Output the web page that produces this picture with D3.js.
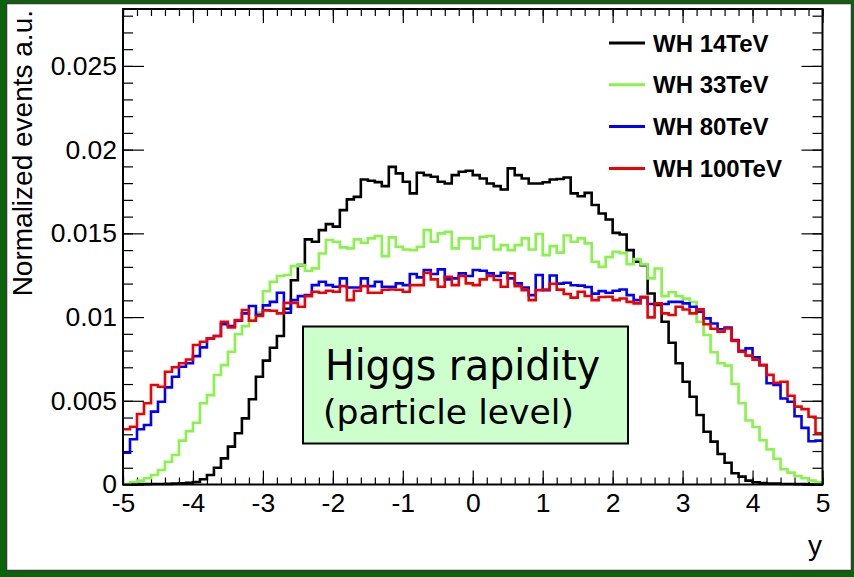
<!DOCTYPE html>
<html>
<head>
<meta charset="utf-8">
<script src="https://cdn.jsdelivr.net/npm/d3@7"></script>
<style>
  html, body { margin: 0; padding: 0; background: #0b640b; }
  svg { display: block; }
</style>
</head>
<body>
<div id="chart"></div>
<script>
// Bin left edges of the rapidity histogram (100 bins, width 0.1, from -5 to 5)
const binWidth = 0.1;
const binLo = d3.range(100).map(i => -5 + i * binWidth);

// Normalized events, in units of 1e-3
const wh14 = [
  0.01, 0.01, 0.02, 0.02, 0.03, 0.03, 0.04, 0.05, 0.07, 0.10,
  0.15, 0.31, 0.57, 1.00, 1.56, 2.26, 3.06, 3.95, 5.09, 6.44,
  7.40, 8.17, 8.87, 10.5, 12.2, 13.1, 14.64, 14.5, 15.19, 15.55,
  15.4, 16.39, 17.03, 17.18, 18.22, 18.14, 18.06, 17.82, 18.97, 18.58,
  18.08, 17.39, 18.62, 18.48, 18.38, 18.08, 17.98, 18.48, 18.68, 18.74,
  18.48, 18.28, 17.98, 17.82, 17.62, 18.88, 18.48, 18.28, 17.98, 17.98,
  18.05, 18.22, 18.25, 18.34, 17.39, 17.22, 17.42, 16.69, 16.19, 15.83,
  15.03, 14.93, 14.0, 13.30, 13.1, 11.41, 10.72, 9.72, 8.47, 7.24,
  6.14, 5.24, 4.15, 3.15, 2.56, 1.82, 1.30, 0.67, 0.47, 0.23,
  0.13, 0.08, 0.06, 0.05, 0.03, 0.03, 0.02, 0.02, 0.01, 0.01
];
const wh33 = [
  0.03, 0.13, 0.23, 0.37, 0.57, 0.87, 1.36, 1.76, 2.62, 3.19,
  3.69, 4.85, 5.34, 6.54, 7.13, 7.93, 8.97, 9.46, 9.82, 10.27,
  11.54, 12.11, 12.45, 12.51, 13.04, 13.10, 12.77, 12.91, 13.80, 14.60,
  14.50, 14.16, 14.10, 14.64, 14.44, 14.70, 14.84, 13.64, 14.76, 14.20,
  14.04, 14.0, 14.2, 15.19, 14.5, 15.0, 15.09, 14.1, 14.7, 14.7,
  14.1, 14.8, 14.84, 14.04, 14.3, 14.0, 14.3, 14.7, 14.04, 14.96,
  13.7, 14.24, 13.85, 14.87, 14.5, 14.7, 14.4, 13.3, 13.0, 13.58,
  13.9, 13.82, 13.16, 13.47, 13.15, 12.31, 12.9, 11.25, 11.48, 11.25,
  11.1, 10.9, 9.72, 8.93, 7.9, 7.24, 7.1, 6.0, 4.85, 3.82,
  3.43, 2.64, 2.1, 1.54, 0.91, 0.71, 0.51, 0.37, 0.23, 0.13
];
const wh80 = [
  1.90, 2.70, 3.30, 3.55, 4.35, 4.94, 5.80, 6.44, 7.03, 7.24,
  7.67, 8.19, 8.73, 8.87, 9.58, 9.46, 9.78, 10.22, 10.66, 10.14,
  10.70, 10.91, 11.45, 10.26, 11.01, 11.25, 11.31, 11.91, 12.11, 11.91,
  11.81, 12.31, 11.77, 11.77, 12.31, 11.85, 12.11, 11.81, 11.81, 12.01,
  11.91, 12.57, 12.37, 12.81, 12.57, 12.85, 12.25, 12.31, 12.61, 12.45,
  12.81, 12.77, 12.61, 12.45, 12.65, 12.31, 12.01, 11.77, 11.31, 12.51,
  11.61, 12.48, 12.0, 12.05, 11.9, 11.88, 11.8, 11.4, 11.55, 11.45,
  11.57, 11.65, 11.31, 11.01, 11.17, 10.78, 10.82, 10.78, 10.91, 10.91,
  10.82, 10.62, 10.32, 9.92, 9.62, 9.27, 9.38, 8.63, 7.99, 8.13,
  7.59, 7.13, 6.05, 5.95, 5.14, 4.94, 4.08, 3.38, 2.58, 2.62
];
const wh100 = [
  3.30, 3.45, 4.21, 4.85, 5.94, 5.84, 6.73, 7.00, 7.24, 7.47,
  8.33, 8.53, 8.73, 8.87, 9.72, 9.38, 9.82, 10.42, 9.78, 10.06,
  10.40, 10.38, 10.22, 10.85, 10.85, 10.62, 11.25, 11.51, 11.45, 11.57,
  11.51, 11.85, 11.01, 11.57, 11.85, 11.45, 11.45, 11.63, 11.65, 11.63,
  11.51, 11.91, 11.91, 12.65, 12.25, 11.81, 12.41, 11.91, 12.45, 12.01,
  11.91, 12.25, 12.45, 12.21, 11.81, 12.61, 11.85, 11.61, 11.01, 11.61,
  11.65, 11.99, 11.64, 11.38, 11.16, 11.51, 11.26, 11.01, 11.2, 11.21,
  11.01, 11.11, 10.91, 10.82, 11.21, 9.98, 10.82, 10.22, 10.12, 10.62,
  10.45, 10.22, 10.46, 9.57, 9.3, 9.12, 9.32, 8.58, 7.93, 7.7,
  7.45, 7.13, 6.55, 6.08, 6.14, 5.3, 4.65, 4.5, 4.05, 3.06
];

const seriesNames  = ['WH 14TeV', 'WH 33TeV', 'WH 80TeV', 'WH 100TeV'];
const seriesValues = [wh14, wh33, wh80, wh100];
const seriesColors = ['#000000', '#86f448', '#0000ff', '#f00000'];

const xMajorTicks  = [-5, -4, -3, -2, -1, 0, 1, 2, 3, 4, 5];
const xTickLabels  = ['-5', '-4', '-3', '-2', '-1', '0', '1', '2', '3', '4', '5'];
const yMajorTicks  = [0, 5, 10, 15, 20, 25];
const yTickLabels  = ['0', '0.005', '0.01', '0.015', '0.02', '0.025'];

const W = 854, H = 577;
const frame = { left: 123, right: 822.5, top: 9, bottom: 484.5 };
const FONT = 'Liberation Sans, Arial, Helvetica, sans-serif';

const svg = d3.select('#chart').append('svg')
  .attr('width', W).attr('height', H)
  .attr('role', 'img')
  .attr('aria-label', 'Higgs rapidity distributions for WH production');

// Fond du cadre (bord vert foncé + page blanche)
svg.append('rect').attr('width', W).attr('height', H).attr('fill', '#0b640b');
svg.append('rect')
  .attr('x', 6.5).attr('y', 3.5).attr('width', 845).attr('height', 567)
  .attr('fill', '#ffffff').attr('stroke', '#3a3a3a').attr('stroke-width', 1.5);

// Échelles
const x = d3.scaleLinear().domain([-5, 5]).range([frame.left, frame.right]);
const y = d3.scaleLinear().domain([0, 28.4]).range([frame.bottom, frame.top]);

const xMinor = d3.range(-5, 5.001, 0.2);
const yMinor = d3.range(0, 28.5, 1);

const styleTicks = gg => {
  gg.select('.domain').remove();
  gg.selectAll('line').attr('stroke', '#000').attr('stroke-width', 1.2);
  gg.selectAll('text')
    .style('fill', '#000')
    .style('font-size', '26.5px')
    .style('font-family', FONT);
};

// Axe X (bas + haut, graduations vers l'intérieur)
svg.append('g').attr('transform', `translate(0,${frame.bottom})`)
  .call(d3.axisBottom(x).tickValues(xMinor).tickSize(-7).tickFormat(''))
  .call(styleTicks);
svg.append('g').attr('transform', `translate(0,${frame.bottom})`)
  .call(d3.axisBottom(x).tickValues(xMajorTicks).tickSize(-14).tickPadding(9)
    .tickFormat((d, i) => xTickLabels[i]))
  .call(styleTicks);
svg.append('g').attr('transform', `translate(0,${frame.top})`)
  .call(d3.axisTop(x).tickValues(xMinor).tickSize(-7).tickFormat(''))
  .call(styleTicks);
svg.append('g').attr('transform', `translate(0,${frame.top})`)
  .call(d3.axisTop(x).tickValues(xMajorTicks).tickSize(-14).tickFormat(''))
  .call(styleTicks);

// Axe Y (gauche + droite)
svg.append('g').attr('transform', `translate(${frame.left},0)`)
  .call(d3.axisLeft(y).tickValues(yMinor).tickSize(-10).tickFormat(''))
  .call(styleTicks);
svg.append('g').attr('transform', `translate(${frame.left},0)`)
  .call(d3.axisLeft(y).tickValues(yMajorTicks).tickSize(-21).tickPadding(6)
    .tickFormat((d, i) => yTickLabels[i]))
  .call(styleTicks);
svg.append('g').attr('transform', `translate(${frame.right},0)`)
  .call(d3.axisRight(y).tickValues(yMinor).tickSize(-10).tickFormat(''))
  .call(styleTicks);
svg.append('g').attr('transform', `translate(${frame.right},0)`)
  .call(d3.axisRight(y).tickValues(yMajorTicks).tickSize(-21).tickFormat(''))
  .call(styleTicks);

// Histogrammes en escalier
const step = d3.line().x(d => x(d[0])).y(d => y(d[1])).curve(d3.curveStepAfter);
seriesValues.forEach((vals, k) => {
  const pts = vals.map((v, i) => [binLo[i], v]);
  pts.push([binLo[binLo.length - 1] + binWidth, vals[vals.length - 1]]);
  svg.append('path').datum(pts)
    .attr('fill', 'none')
    .attr('stroke', seriesColors[k])
    .attr('stroke-width', 2.6)
    .attr('d', step);
});

// Cadre
svg.append('rect')
  .attr('x', frame.left).attr('y', frame.top)
  .attr('width', frame.right - frame.left).attr('height', frame.bottom - frame.top)
  .attr('fill', 'none').attr('stroke', '#000').attr('stroke-width', 2);

// Titres d'axes
svg.append('text')
  .attr('transform', 'translate(32,10) rotate(-90)')
  .attr('text-anchor', 'end')
  .style('font-family', FONT).style('font-size', '28px')
  .text('Normalized events a.u.');
svg.append('text')
  .attr('x', 822).attr('y', 555)
  .attr('text-anchor', 'end')
  .style('font-family', FONT).style('font-size', '28px')
  .text('y');

// Légende
const legend = svg.append('g');
seriesNames.forEach((name, k) => {
  const ly = 43 + k * 41.8;
  legend.append('line')
    .attr('x1', 609).attr('x2', 645).attr('y1', ly).attr('y2', ly)
    .attr('stroke', seriesColors[k]).attr('stroke-width', 3);
  legend.append('text')
    .attr('x', 653).attr('y', ly).attr('dy', '0.36em')
    .style('font-family', FONT).style('font-size', '24px').style('font-weight', 'bold')
    .text(name);
});

// Encadré « Higgs rapidity »
svg.append('rect')
  .attr('x', 303).attr('y', 326.5).attr('width', 325).attr('height', 117)
  .attr('fill', '#ccffcc').attr('stroke', '#000').attr('stroke-width', 2);
svg.append('text')
  .attr('x', 325).attr('y', 380)
  .attr('textLength', 275).attr('lengthAdjust', 'spacingAndGlyphs')
  .style('font-family', '"Comic Sans MS", "DejaVu Sans", sans-serif').style('font-size', '42px')
  .text('Higgs rapidity');
svg.append('text')
  .attr('x', 323).attr('y', 424)
  .attr('textLength', 251).attr('lengthAdjust', 'spacingAndGlyphs')
  .style('font-family', '"Comic Sans MS", "DejaVu Sans", sans-serif').style('font-size', '34px')
  .text('(particle level)');
</script>
</body>
</html>
